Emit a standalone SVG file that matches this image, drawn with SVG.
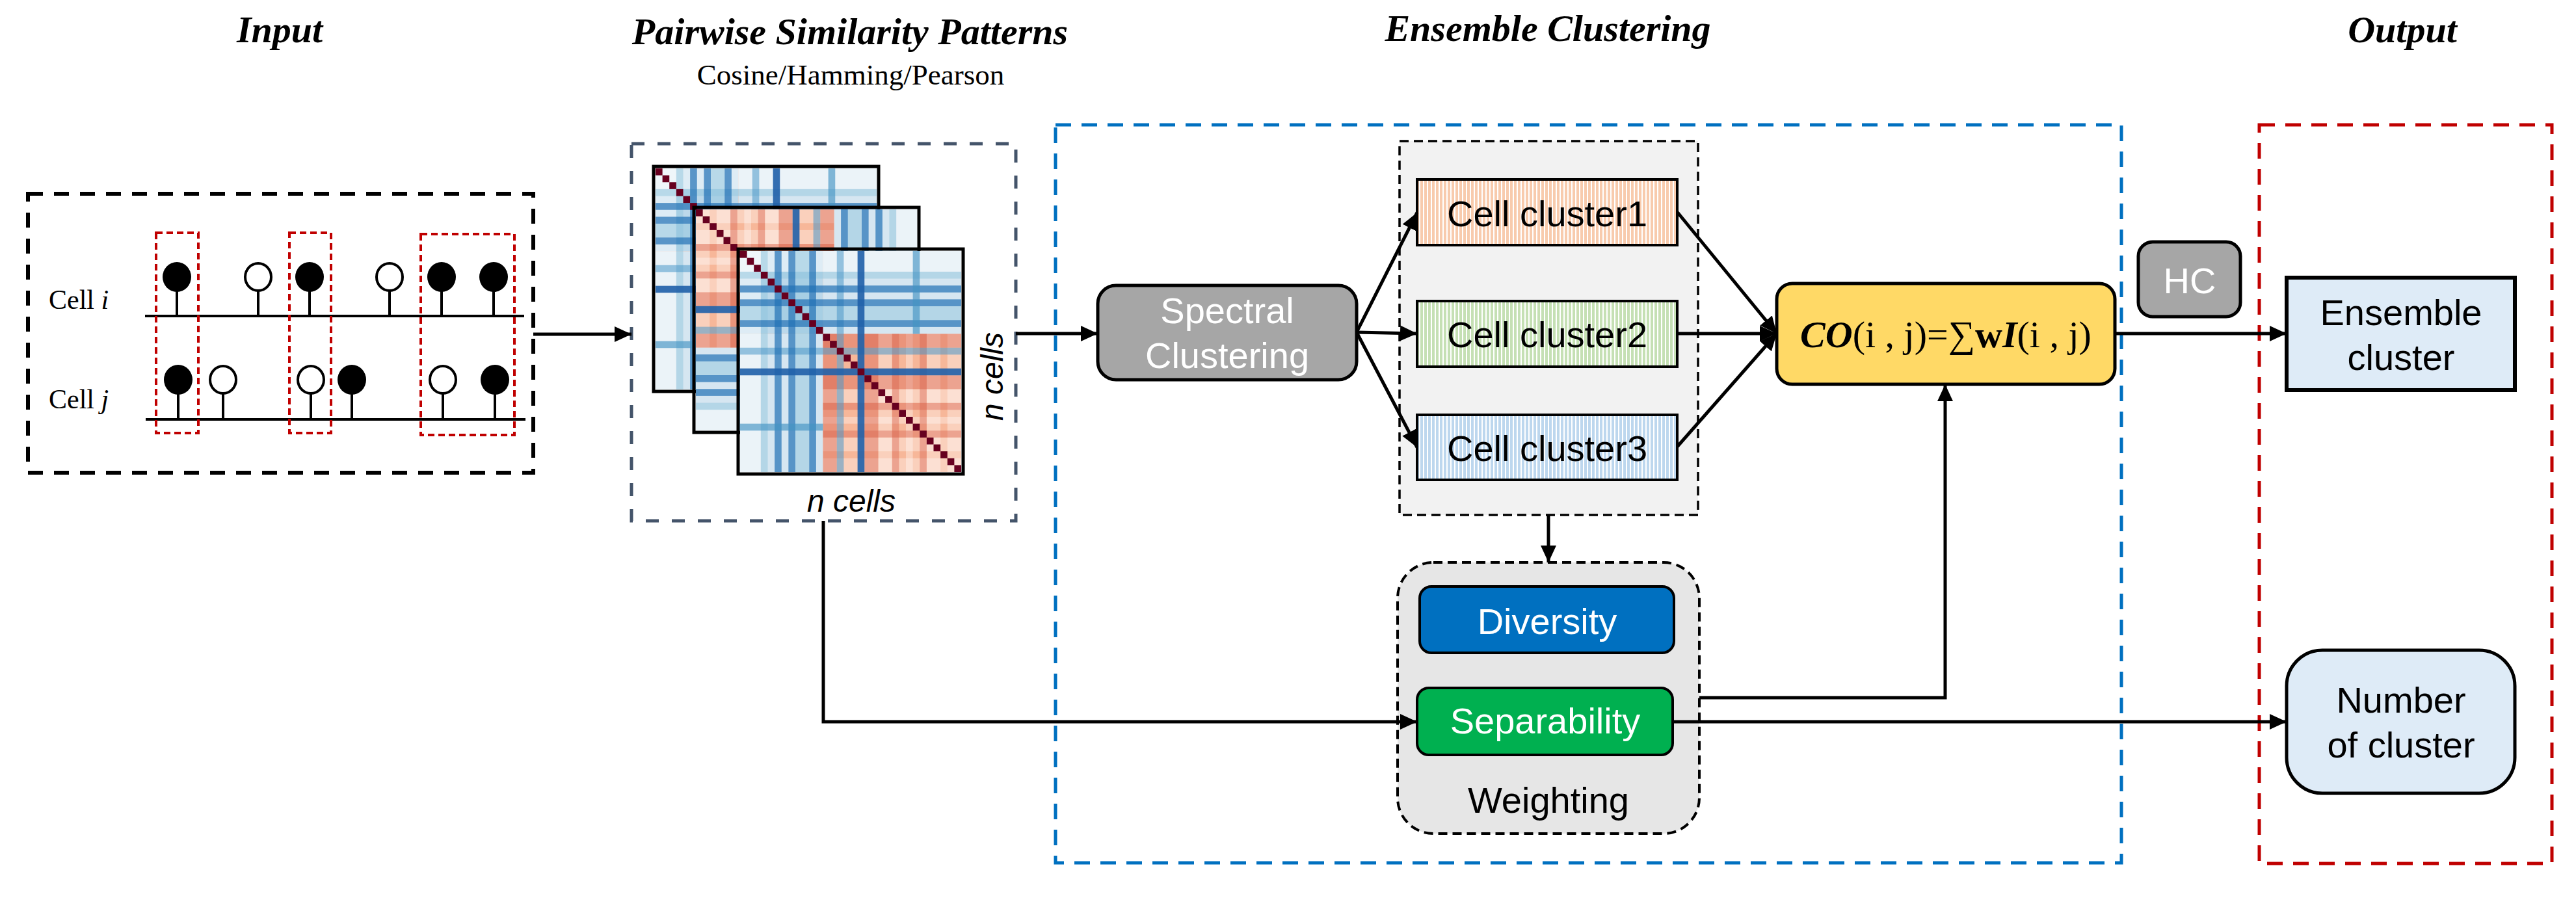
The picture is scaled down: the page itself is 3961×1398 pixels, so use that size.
<svg xmlns="http://www.w3.org/2000/svg" xmlns:xlink="http://www.w3.org/1999/xlink" width="3961" height="1398" viewBox="0 0 3961 1398">
<style>
.title{font-family:"Liberation Serif","Times New Roman",serif;font-weight:bold;font-style:italic;font-size:58px;text-anchor:middle;fill:#000}
.serif{font-family:"Liberation Serif","Times New Roman",serif;fill:#000}
.sans{font-family:"Liberation Sans",Arial,sans-serif;font-size:56px;text-anchor:middle;fill:#000}
.ital{font-family:"Liberation Sans",Arial,sans-serif;font-style:italic;font-size:48px;text-anchor:middle;fill:#000}
.wt{fill:#fff}
.conn{fill:none;stroke:#000;stroke-width:5}
.arr{marker-end:url(#ah)}
.stem{stroke:#000;stroke-width:4}
.dot{fill:#000}
.ring{fill:#fff;stroke:#000;stroke-width:4}
.redbox{fill:none;stroke:#C00000;stroke-width:4;stroke-dasharray:10 6}
</style>
<defs>
<marker id="ah" viewBox="0 0 26 24" refX="26" refY="12" markerWidth="26" markerHeight="24" markerUnits="userSpaceOnUse" orient="auto">
<path d="M0,0 L26,12 L0,24 z" fill="#000"/>
</marker>
<pattern id="pOr" width="6" height="10" patternUnits="userSpaceOnUse"><rect width="6" height="10" fill="#fff"/><rect width="4" height="10" fill="#F8CBAD"/></pattern>
<pattern id="pGr" width="6" height="10" patternUnits="userSpaceOnUse"><rect width="6" height="10" fill="#fff"/><rect width="4" height="10" fill="#C5E0B4"/></pattern>
<pattern id="pBl" width="6" height="10" patternUnits="userSpaceOnUse"><rect width="6" height="10" fill="#fff"/><rect width="4" height="10" fill="#BDD7EE"/></pattern>
<g id="hm">
<rect width="32" height="32" fill="#F7B799"/>
<rect width="12" height="12" fill="#BCD8EA"/>
<rect x="12" width="20" height="12" fill="#D6E6F1"/>
<rect y="12" width="12" height="20" fill="#D6E6F1"/>
<rect width="32" height="3" fill="#fff" fill-opacity="0.5"/>
<rect width="3" height="32" fill="#fff" fill-opacity="0.5"/>
<g fill="#fff" fill-opacity="0.35">
<rect x="12" y="20" width="20" height="2"/><rect x="20" y="12" width="2" height="20"/>
<rect x="12" y="24" width="20" height="1"/><rect x="24" y="12" width="1" height="20"/>
<rect x="12" y="27" width="20" height="2"/><rect x="27" y="12" width="2" height="20"/>
<rect x="12" y="30" width="20" height="2"/><rect x="30" y="12" width="2" height="20"/>
</g>
<g fill="#D6604D" fill-opacity="0.4">
<rect x="12" y="12" width="20" height="2"/><rect x="12" y="12" width="2" height="20"/>
<rect x="12" y="18" width="20" height="2"/><rect x="18" y="12" width="2" height="20"/>
<rect x="12" y="22" width="20" height="1"/><rect x="22" y="12" width="1" height="20"/>
<rect x="12" y="26" width="20" height="1"/><rect x="26" y="12" width="1" height="20"/>
</g>
<g fill="#92C5DE" fill-opacity="0.5">
<rect y="3" width="32" height="1"/><rect x="3" width="1" height="32"/>
<rect y="8" width="32" height="2"/><rect x="8" width="2" height="32"/>
</g>
<g fill="#4A98C9" fill-opacity="0.55">
<rect y="14" width="32" height="1"/><rect x="14" width="1" height="32"/>
</g>
<g fill="#2171B5" fill-opacity="0.7">
<rect y="5" width="32" height="1"/><rect x="5" width="1" height="32"/>
<rect y="7" width="32" height="1"/><rect x="7" width="1" height="32"/>
<rect y="10" width="32" height="1"/><rect x="10" width="1" height="32"/>
</g>
<g fill="#4393C3" fill-opacity="0.65">
<rect y="25" width="12" height="1"/><rect x="25" width="1" height="12"/>
</g>
<g fill="#1F5FA8" fill-opacity="0.9">
<rect y="17" width="32" height="1"/><rect x="17" width="1" height="32"/>
</g>
<g fill="#67001F">
<rect x="0" y="0" width="1" height="1"/><rect x="1" y="1" width="1" height="1"/><rect x="2" y="2" width="1" height="1"/><rect x="3" y="3" width="1" height="1"/>
<rect x="4" y="4" width="1" height="1"/><rect x="5" y="5" width="1" height="1"/><rect x="6" y="6" width="1" height="1"/><rect x="7" y="7" width="1" height="1"/>
<rect x="8" y="8" width="1" height="1"/><rect x="9" y="9" width="1" height="1"/><rect x="10" y="10" width="1" height="1"/><rect x="11" y="11" width="1" height="1"/>
<rect x="12" y="12" width="1" height="1"/><rect x="13" y="13" width="1" height="1"/><rect x="14" y="14" width="1" height="1"/><rect x="15" y="15" width="1" height="1"/>
<rect x="16" y="16" width="1" height="1"/><rect x="17" y="17" width="1" height="1"/><rect x="18" y="18" width="1" height="1"/><rect x="19" y="19" width="1" height="1"/>
<rect x="20" y="20" width="1" height="1"/><rect x="21" y="21" width="1" height="1"/><rect x="22" y="22" width="1" height="1"/><rect x="23" y="23" width="1" height="1"/>
<rect x="24" y="24" width="1" height="1"/><rect x="25" y="25" width="1" height="1"/><rect x="26" y="26" width="1" height="1"/><rect x="27" y="27" width="1" height="1"/>
<rect x="28" y="28" width="1" height="1"/><rect x="29" y="29" width="1" height="1"/><rect x="30" y="30" width="1" height="1"/><rect x="31" y="31" width="1" height="1"/>
</g>
</g>
</defs>
<rect width="3961" height="1398" fill="#fff"/>

<g id="titles">
<text class="title" x="430" y="65">Input</text>
<text class="title" x="1307" y="68">Pairwise Similarity Patterns</text>
<text class="serif" x="1308" y="130" font-size="45" text-anchor="middle">Cosine/Hamming/Pearson</text>
<text class="title" x="2380" y="63">Ensemble Clustering</text>
<text class="title" x="3694" y="65">Output</text>
</g>

<g id="frames">
<rect x="1623" y="192" width="1639" height="1135" fill="none" stroke="#0070C0" stroke-width="5" stroke-dasharray="24 16"/>
<rect x="3474" y="192" width="450" height="1136" fill="none" stroke="#C00000" stroke-width="5" stroke-dasharray="24 16"/>
</g>

<g id="input">
<rect x="43" y="298" width="777" height="429" fill="none" stroke="#000" stroke-width="6" stroke-dasharray="23 17"/>
<text class="serif" x="75" y="475" font-size="42">Cell <tspan font-style="italic">i</tspan></text>
<text class="serif" x="75" y="628" font-size="42">Cell <tspan font-style="italic">j</tspan></text>
<line x1="223" y1="486" x2="806" y2="486" class="stem"/>
<line x1="224" y1="645" x2="808" y2="645" class="stem"/>
<g class="stem">
<line x1="272" y1="440" x2="272" y2="486"/><line x1="397" y1="440" x2="397" y2="486"/><line x1="476" y1="440" x2="476" y2="486"/>
<line x1="599" y1="440" x2="599" y2="486"/><line x1="679" y1="440" x2="679" y2="486"/><line x1="759" y1="440" x2="759" y2="486"/>
<line x1="274" y1="598" x2="274" y2="645"/><line x1="343" y1="598" x2="343" y2="645"/><line x1="478" y1="598" x2="478" y2="645"/>
<line x1="541" y1="598" x2="541" y2="645"/><line x1="681" y1="598" x2="681" y2="645"/><line x1="761" y1="598" x2="761" y2="645"/>
</g>
<ellipse class="dot" cx="272" cy="426" rx="22" ry="23"/>
<ellipse class="ring" cx="397" cy="426" rx="20" ry="21"/>
<ellipse class="dot" cx="476" cy="426" rx="22" ry="23"/>
<ellipse class="ring" cx="599" cy="426" rx="20" ry="21"/>
<ellipse class="dot" cx="679" cy="426" rx="22" ry="23"/>
<ellipse class="dot" cx="759" cy="426" rx="22" ry="23"/>
<ellipse class="dot" cx="274" cy="584" rx="22" ry="23"/>
<ellipse class="ring" cx="343" cy="584" rx="20" ry="21"/>
<ellipse class="ring" cx="478" cy="584" rx="20" ry="21"/>
<ellipse class="dot" cx="541" cy="584" rx="22" ry="23"/>
<ellipse class="ring" cx="681" cy="584" rx="20" ry="21"/>
<ellipse class="dot" cx="761" cy="584" rx="22" ry="23"/>
<rect class="redbox" x="240" y="358" width="65" height="308"/>
<rect class="redbox" x="445" y="358" width="64" height="308"/>
<rect class="redbox" x="647" y="360" width="144" height="309"/>
</g>

<g id="similarity">
<rect x="971" y="221" width="591" height="580" fill="none" stroke="#44546A" stroke-width="5" stroke-dasharray="20 20"/>
<use xlink:href="#hm" href="#hm" transform="translate(1008,259) scale(10.625)"/>
<rect x="1005" y="256" width="346" height="346" fill="none" stroke="#000" stroke-width="5"/>
<use xlink:href="#hm" href="#hm" transform="translate(1410,662) rotate(180) scale(10.625)"/>
<rect x="1067" y="319" width="346" height="346" fill="none" stroke="#000" stroke-width="5"/>
<use xlink:href="#hm" href="#hm" transform="translate(1138,386) scale(10.625)"/>
<rect x="1135" y="383" width="346" height="346" fill="none" stroke="#000" stroke-width="5"/>
<text class="ital" transform="translate(1542,579) rotate(-90)">n cells</text>
<text class="ital" x="1309" y="787">n cells</text>
</g>

<g id="spectral">
<rect x="1688" y="439" width="398" height="145" rx="28" fill="#A6A6A6" stroke="#000" stroke-width="5"/>
<text class="sans wt" x="1887" y="497">Spectral</text>
<text class="sans wt" x="1887" y="566">Clustering</text>
</g>

<g id="clusters">
<rect x="2152" y="217" width="459" height="575" fill="#F2F2F2" stroke="#000" stroke-width="3.5" stroke-dasharray="14 8"/>
<g id="cluster1">
<rect x="2179" y="276" width="400" height="101" fill="url(#pOr)" stroke="#000" stroke-width="4"/>
<text class="sans" x="2379" y="348">Cell cluster1</text>
</g>
<g id="cluster2">
<rect x="2179" y="463" width="400" height="101" fill="url(#pGr)" stroke="#000" stroke-width="4"/>
<text class="sans" x="2379" y="534">Cell cluster2</text>
</g>
<g id="cluster3">
<rect x="2179" y="638" width="400" height="100" fill="url(#pBl)" stroke="#000" stroke-width="4"/>
<text class="sans" x="2379" y="709">Cell cluster3</text>
</g>
</g>

<g id="weighting">
<rect x="2149" y="865" width="464" height="417" rx="55" fill="#E6E6E6" stroke="#000" stroke-width="4" stroke-dasharray="14 8"/>
<g id="diversity">
<rect x="2183" y="902" width="391" height="102" rx="18" fill="#0070C0" stroke="#000" stroke-width="4"/>
<text class="sans wt" x="2379" y="975">Diversity</text>
</g>
<g id="separability">
<rect x="2179" y="1058" width="393" height="103" rx="18" fill="#00B050" stroke="#000" stroke-width="4"/>
<text class="sans wt" x="2376" y="1128">Separability</text>
</g>
<text class="sans" x="2381" y="1250">Weighting</text>
</g>

<g id="co">
<rect x="2732" y="436" width="520" height="155" rx="24" fill="#FFD966" stroke="#000" stroke-width="5"/>
<text class="serif" x="2992" y="534" font-size="58" text-anchor="middle"><tspan font-weight="bold" font-style="italic">CO</tspan>(i , j)=∑<tspan font-weight="bold">w</tspan><tspan font-weight="bold" font-style="italic">I</tspan>(i , j)</text>
</g>

<g id="hc">
<rect x="3288" y="372" width="157" height="115" rx="22" fill="#A6A6A6" stroke="#000" stroke-width="5"/>
<text class="sans wt" x="3367" y="451">HC</text>
</g>

<g id="ensemble">
<rect x="3516" y="427" width="351" height="173" fill="#DEEBF7" stroke="#000" stroke-width="6"/>
<text class="sans" x="3692" y="500">Ensemble</text>
<text class="sans" x="3692" y="569">cluster</text>
</g>

<g id="number">
<rect x="3516" y="1000" width="351" height="220" rx="55" fill="#DEEBF7" stroke="#000" stroke-width="5"/>
<text class="sans" x="3692" y="1096">Number</text>
<text class="sans" x="3692" y="1165">of cluster</text>
</g>

<g id="connectors">
<path class="conn arr" d="M820,514 H971"/>
<path class="conn arr" d="M1562,513 H1688"/>
<path class="conn arr" d="M2086,511 L2179,327"/>
<path class="conn arr" d="M2086,511 L2179,513"/>
<path class="conn arr" d="M2086,511 L2179,688"/>
<path class="conn arr" d="M2579,326 L2732,513"/>
<path class="conn arr" d="M2579,513 L2732,513"/>
<path class="conn arr" d="M2579,687 L2732,513"/>
<path class="conn arr" d="M3252,513 H3516"/>
<path class="conn arr" d="M2381,792 V865" stroke-width="4"/>
<path class="conn arr" d="M1266,801 V1110 H2179"/>
<path class="conn arr" d="M2613,1073 H2991 V591"/>
<path class="conn arr" d="M2572,1110 H3516"/>
</g>
</svg>
